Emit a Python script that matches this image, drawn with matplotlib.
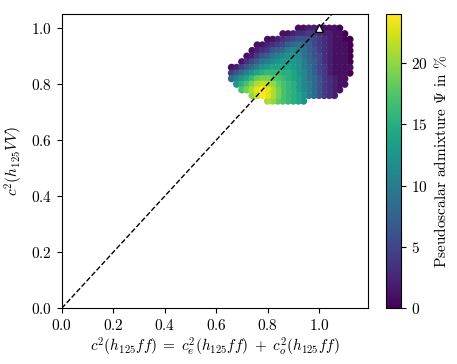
import numpy as np
import matplotlib
matplotlib.use("Agg")
import matplotlib.pyplot as plt

plt.rcParams['font.family'] = 'serif'
plt.rcParams['font.serif'] = ['cmr10']
plt.rcParams['mathtext.fontset'] = 'cm'
plt.rcParams['axes.formatter.use_mathtext'] = True
plt.rcParams['font.size'] = 11

n = np.nan

# scan grid: c^2(h125 ff) columns, c^2(h125 VV) rows
x_vals = [0.66, 0.68, 0.70, 0.72, 0.74, 0.76, 0.78, 0.80, 0.82, 0.84, 0.86, 0.88,
          0.90, 0.92, 0.94, 0.96, 0.98, 1.00, 1.02, 1.04, 1.06, 1.08, 1.10, 1.12]
y_vals = [1.00, 0.98, 0.96, 0.94, 0.92, 0.90, 0.88, 0.86, 0.84, 0.82, 0.80, 0.78, 0.76, 0.74]

# pseudoscalar admixture in % (nan = no point)
psi = [
    [n, n, n, n, n, n, n, n, n, n, n, n, n, 1, 1, 2, 2, 2, 1, 1, 1, 0, n, n],
    [n, n, n, n, n, n, n, n, n, n, 1, 1, 2, 3, 3, 4, 4, 3, 2, 2, 1, 1, 0, n],
    [n, n, n, n, n, n, n, 1, 1, 2, 3, 4, 5, 6, 6, 6, 5, 4, 3, 2, 1, 1, 0, 0],
    [n, n, n, n, n, 1, 1, 2, 3, 4, 5, 7, 8, 9, 8, 7, 5, 4, 3, 2, 1, 1, 1, 0],
    [n, n, n, n, 1, 2, 3, 4, 6, 7, 8, 10, 11, 10, 9, 7, 6, 4, 3, 2, 1, 1, 1, 0],
    [n, n, n, 1, 2, 4, 6, 7, 9, 10, 11, 12, 12, 11, 9, 8, 6, 5, 3, 2, 1, 1, 1, 0],
    [n, n, 1, 3, 5, 7, 9, 10, 11, 12, 13, 13, 13, 12, 10, 8, 7, 5, 3, 2, 1, 1, 1, 0],
    [1, 2, 4, 6, 8, 10, 12, 13, 14, 14, 14, 14, 13, 12, 10, 9, 7, 5, 4, 2, 1, 1, 1, 1],
    [4, 6, 8, 10, 12, 14, 15, 16, 16, 16, 15, 15, 14, 12, 11, 9, 7, 5, 4, 2, 1, 1, 1, 0],
    [8, 10, 12, 14, 16, 18, 19, 19, 18, 17, 16, 15, 14, 13, 11, 9, 8, 6, 4, 3, 2, 1, 1, n],
    [n, 13, 15, 17, 19, 21, 22, 21, 20, 18, 17, 16, 15, 13, 11, 10, 8, 6, 4, 3, 2, 1, 1, n],
    [n, n, 17, 19, 21, 23, 24, 23, 21, 19, 17, 16, 15, 13, 11, 10, 8, 6, 4, 3, 2, 1, n, n],
    [n, n, n, n, 20, 22, 24, 23, 21, 19, 17, 16, 15, 14, 12, 10, 8, 6, 4, 3, 2, n, n, n],
    [n, n, n, n, n, n, n, 21, 20, 18, 17, 16, 15, 14, 12, n, n, n, n, n, n, n, n, n],
]

sm_point = (1.0, 1.0)

X, Y = np.meshgrid(x_vals, y_vals)
P = np.array(psi, dtype=float)
ok = ~np.isnan(P)
order = np.argsort(P[ok])
xs, ys, ps = X[ok][order], Y[ok][order], P[ok][order]

fig = plt.figure(figsize=(4.57, 3.64), dpi=100)
ax = fig.add_axes([0.135, 0.153, 0.670, 0.808])
cax = fig.add_axes([0.845, 0.153, 0.033, 0.808])

sc = ax.scatter(xs, ys, c=ps, cmap='viridis', vmin=0, vmax=24, s=28, linewidths=0)
ax.plot([0, 1.1], [0, 1.1], 'k--', lw=1)
ax.plot(*sm_point, marker='^', ms=6, mfc='white', mec='black', mew=1, zorder=5)

ax.set_xlim(0, 1.19)
ax.set_ylim(0, 1.05)
ax.set_xticks([0.0, 0.2, 0.4, 0.6, 0.8, 1.0])
ax.set_yticks([0.0, 0.2, 0.4, 0.6, 0.8, 1.0])
ax.set_xlabel(r'$c^2(h_{125}ff)\;=\;c_e^2(h_{125}ff)\;+\;c_o^2(h_{125}ff)$', labelpad=2)
ax.set_ylabel(r'$c^2(h_{125}VV)$')

cb = fig.colorbar(sc, cax=cax, ticks=[0, 5, 10, 15, 20])
cb.set_label(r'Pseudoscalar admixture $\Psi$ in %')

fig.savefig('out.png', dpi=100)
